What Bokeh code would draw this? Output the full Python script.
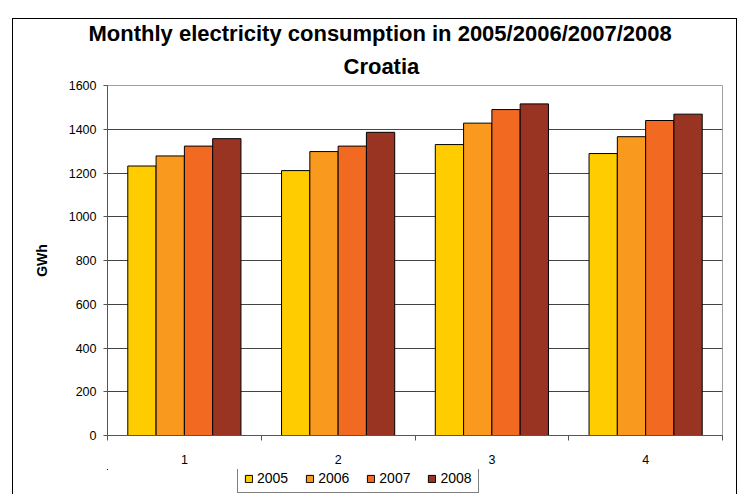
from bokeh.plotting import figure
from bokeh.layouts import column
from bokeh.models import (ColumnDataSource, FixedTicker, Legend, LegendItem, Title, Range1d,
                          InlineStyleSheet)
from bokeh.transform import dodge
from bokeh.embed import file_html
from bokeh.resources import INLINE

months = [1, 2, 3, 4]
month_labels = ["1", "2", "3", "4"]
years = ["2005", "2006", "2007", "2008"]
v2005 = [1232, 1211, 1330, 1289]
v2006 = [1278, 1298, 1428, 1366]
v2007 = [1323, 1323, 1490, 1440]
v2008 = [1357, 1386, 1516, 1469]
y_ticks = [0, 200, 400, 600, 800, 1000, 1200, 1400, 1600]
colors = ["#FFCC00", "#F99A1E", "#F26A22", "#993322"]

src = ColumnDataSource(dict(x=months, y2005=v2005, y2006=v2006, y2007=v2007, y2008=v2008))

FONT = "Liberation Sans"

p = figure(width=737, height=466, output_backend="svg", toolbar_location=None,
           x_range=Range1d(0.5, 4.5), y_range=Range1d(0, 1600),
           min_border_left=107, min_border_right=15, min_border_bottom=30, min_border_top=85)

p.title.text = "Monthly electricity consumption in 2005/2006/2007/2008"
p.title.text_font = FONT
p.title.text_font_size = "22px"
p.title.text_font_style = "bold"
p.title.text_color = "black"
p.title.align = "left"
p.title.offset = -19
p.title.standoff = 0
sub = Title(text="Croatia", text_font=FONT, text_color="black",
            text_font_size="22px", text_font_style="bold", align="left", offset=236,
            standoff=13)
p.add_layout(sub, "above")

width = 0.184
offsets = [-0.276, -0.092, 0.092, 0.276]
keys = ["y2005", "y2006", "y2007", "y2008"]
for k, off, c in zip(keys, offsets, colors):
    p.vbar(x=dodge("x", off), top=k, width=width, source=src, fill_color=c,
           line_color="black", line_width=1)

p.xaxis.ticker = FixedTicker(ticks=months, minor_ticks=[0.5, 1.5, 2.5, 3.5, 4.5])
p.xaxis.major_label_overrides = {m: l for m, l in zip(months, month_labels)}
p.xaxis.major_tick_line_color = None
p.xaxis.major_tick_out = 0
p.xaxis.major_tick_in = 0
p.xaxis.minor_tick_line_color = "#555555"
p.xaxis.minor_tick_out = 5
p.xaxis.minor_tick_in = 0
p.xaxis.major_label_standoff = 14
p.xaxis.axis_line_color = "#555555"

p.yaxis.ticker = FixedTicker(ticks=y_ticks)
p.yaxis.major_tick_out = 4
p.yaxis.major_tick_in = 0
p.yaxis.minor_tick_line_color = None
p.yaxis.major_label_standoff = 7
p.yaxis.axis_line_color = "#555555"
p.yaxis.major_tick_line_color = "#555555"
p.yaxis.axis_label = "GWh"
p.yaxis.axis_label_text_font = FONT
p.yaxis.axis_label_text_font_size = "14px"
p.yaxis.axis_label_text_font_style = "bold"
p.yaxis.axis_label_text_color = "black"
p.yaxis.axis_label_standoff = 16

for ax in (p.xaxis[0], p.yaxis[0]):
    ax.major_label_text_font = FONT
    ax.major_label_text_font_size = "12.5px"
    ax.major_label_text_color = "black"

p.xgrid.grid_line_color = None
p.ygrid.ticker = FixedTicker(ticks=y_ticks)
p.ygrid.grid_line_color = "#444444"
p.outline_line_color = "#a0a0a0"

# legend strip (same side borders as the main plot so the frames stay aligned);
# its ranges lie away from the data so only the legend swatches show
leg = figure(width=737, height=28, output_backend="svg", toolbar_location=None,
             x_range=Range1d(100, 101), y_range=Range1d(-20000, -10000),
             min_border_left=107, min_border_right=15, min_border_top=3, min_border_bottom=0)
leg.axis.visible = False
leg.grid.visible = False
leg.outline_line_color = None
swatches = []
for y, k, c in zip(years, keys, colors):
    r = leg.vbar(x="x", top=k, width=0.1, source=src, fill_color=c,
                 line_color="black", line_width=1)
    swatches.append(LegendItem(label=y, renderers=[r]))
legend = Legend(items=swatches, orientation="horizontal", location=(130, 1),
                label_text_font=FONT, label_text_font_size="14px", label_text_color="black",
                glyph_width=9, glyph_height=9, label_standoff=4, spacing=17,
                padding=6, margin=0, border_line_color="black", label_height=12)
leg.add_layout(legend, "center")

layout = column(p, leg, spacing=0)
layout.stylesheets = [InlineStyleSheet(css="""
:host { position: relative; }
:host::after { content: ""; position: absolute; left: 12px; top: 18px; width: 725px; height: 476px;
  border-left: 1px solid black; border-top: 1px solid black; border-right: 1px solid black;
  pointer-events: none; z-index: 10; box-sizing: border-box; }
""")]

open("out.html", "w").write(file_html(layout, INLINE))
